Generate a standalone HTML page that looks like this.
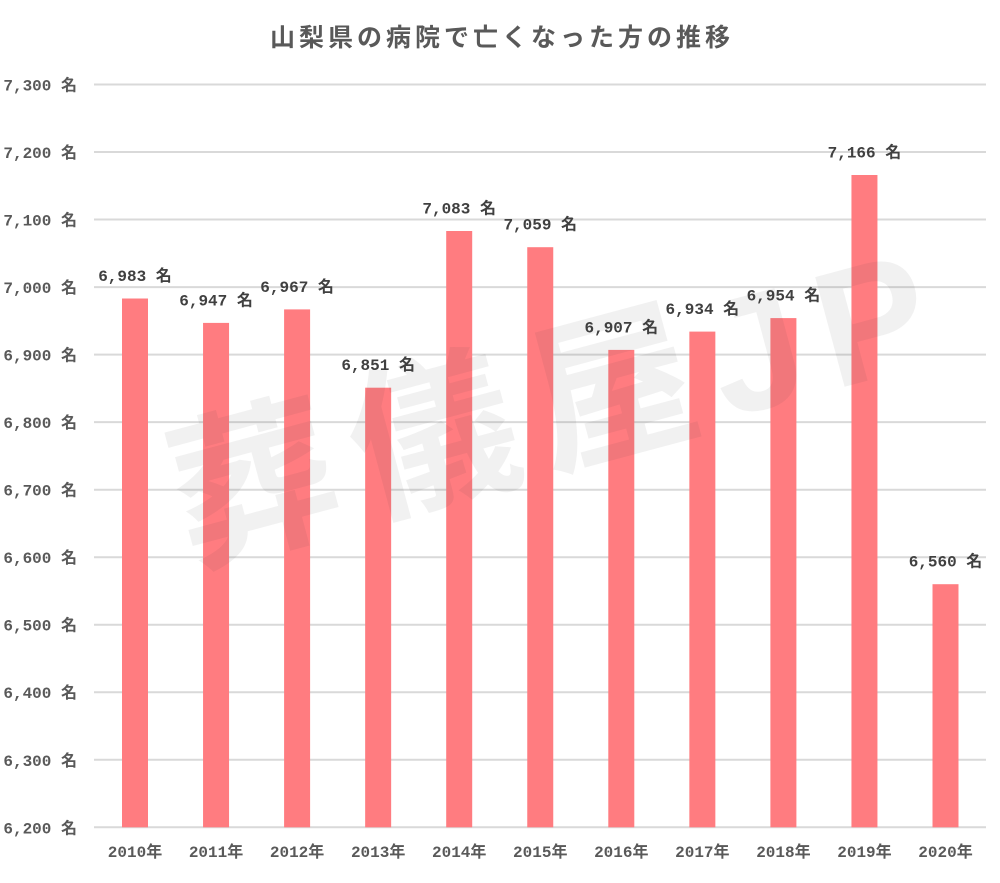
<!DOCTYPE html>
<html>
<head>
<meta charset="utf-8">
<style>
  html, body { margin:0; padding:0; background:#ffffff; }
  svg { display:block; }
</style>
</head>
<body>
<svg width="1000" height="883" viewBox="0 0 1000 883" xmlns="http://www.w3.org/2000/svg">
  <rect x="0" y="0" width="1000" height="883" fill="#ffffff"/>

  <!-- Title -->
  <text x="502" y="46" text-anchor="middle" font-family="'Liberation Sans','Noto Sans CJK JP',sans-serif" font-size="25" font-weight="bold" letter-spacing="4" fill="#595959">山梨県の病院で亡くなった方の推移</text>

  <!-- Gridlines -->
  <g stroke="#d9d9d9" stroke-width="2">
    <line x1="94" y1="84.5" x2="986" y2="84.5"/>
    <line x1="94" y1="152" x2="986" y2="152"/>
    <line x1="94" y1="219.5" x2="986" y2="219.5"/>
    <line x1="94" y1="287.1" x2="986" y2="287.1"/>
    <line x1="94" y1="354.6" x2="986" y2="354.6"/>
    <line x1="94" y1="422.1" x2="986" y2="422.1"/>
    <line x1="94" y1="489.7" x2="986" y2="489.7"/>
    <line x1="94" y1="557.2" x2="986" y2="557.2"/>
    <line x1="94" y1="624.7" x2="986" y2="624.7"/>
    <line x1="94" y1="692.2" x2="986" y2="692.2"/>
    <line x1="94" y1="759.8" x2="986" y2="759.8"/>
    <line x1="94" y1="827.3" x2="986" y2="827.3"/>
  </g>

  <!-- Y axis labels -->
  <g font-family="'Liberation Mono','Noto Sans CJK JP',monospace" font-size="16" font-weight="bold" fill="#595959" text-anchor="end">
    <text x="77" y="90.5">7,300 名</text>
    <text x="77" y="158">7,200 名</text>
    <text x="77" y="225.5">7,100 名</text>
    <text x="77" y="293.1">7,000 名</text>
    <text x="77" y="360.6">6,900 名</text>
    <text x="77" y="428.1">6,800 名</text>
    <text x="77" y="495.7">6,700 名</text>
    <text x="77" y="563.2">6,600 名</text>
    <text x="77" y="630.7">6,500 名</text>
    <text x="77" y="698.2">6,400 名</text>
    <text x="77" y="765.8">6,300 名</text>
    <text x="77" y="833.3">6,200 名</text>
  </g>

  <!-- Bars -->
  <g fill="#ff7c80">
    <rect x="122" y="298.5" width="26" height="528.8"/>
    <rect x="203.05" y="322.9" width="26" height="504.4"/>
    <rect x="284.1" y="309.4" width="26" height="517.9"/>
    <rect x="365.15" y="387.7" width="26" height="439.6"/>
    <rect x="446.2" y="231" width="26" height="596.3"/>
    <rect x="527.25" y="247.2" width="26" height="580.1"/>
    <rect x="608.3" y="349.9" width="26" height="477.4"/>
    <rect x="689.35" y="331.6" width="26" height="495.7"/>
    <rect x="770.4" y="318.1" width="26" height="509.2"/>
    <rect x="851.45" y="175" width="26" height="652.3"/>
    <rect x="932.5" y="584.2" width="26" height="243.1"/>
  </g>

  <!-- Watermark -->
  <text x="560" y="404" text-anchor="middle" dominant-baseline="central" transform="rotate(-15 560 404)" font-family="'Liberation Sans','Noto Sans CJK JP',sans-serif" font-size="165" font-weight="bold" letter-spacing="20" fill="rgba(60,60,60,0.07)">葬儀屋JP</text>

  <!-- Data labels -->
  <g font-family="'Liberation Mono','Noto Sans CJK JP',monospace" font-size="16" font-weight="bold" fill="#404040" text-anchor="middle">
    <text x="135" y="281">6,983 名</text>
    <text x="216.05" y="305.4">6,947 名</text>
    <text x="297.1" y="291.9">6,967 名</text>
    <text x="378.15" y="370.2">6,851 名</text>
    <text x="459.2" y="213.5">7,083 名</text>
    <text x="540.25" y="229.7">7,059 名</text>
    <text x="621.3" y="332.4">6,907 名</text>
    <text x="702.35" y="314.1">6,934 名</text>
    <text x="783.4" y="300.6">6,954 名</text>
    <text x="864.45" y="157.5">7,166 名</text>
    <text x="945.5" y="566.7">6,560 名</text>
  </g>

  <!-- X axis labels -->
  <g font-family="'Liberation Mono','Noto Sans CJK JP',monospace" font-size="16" font-weight="bold" fill="#595959" text-anchor="middle">
    <text x="135" y="857">2010年</text>
    <text x="216.05" y="857">2011年</text>
    <text x="297.1" y="857">2012年</text>
    <text x="378.15" y="857">2013年</text>
    <text x="459.2" y="857">2014年</text>
    <text x="540.25" y="857">2015年</text>
    <text x="621.3" y="857">2016年</text>
    <text x="702.35" y="857">2017年</text>
    <text x="783.4" y="857">2018年</text>
    <text x="864.45" y="857">2019年</text>
    <text x="945.5" y="857">2020年</text>
  </g>
</svg>
</body>
</html>
